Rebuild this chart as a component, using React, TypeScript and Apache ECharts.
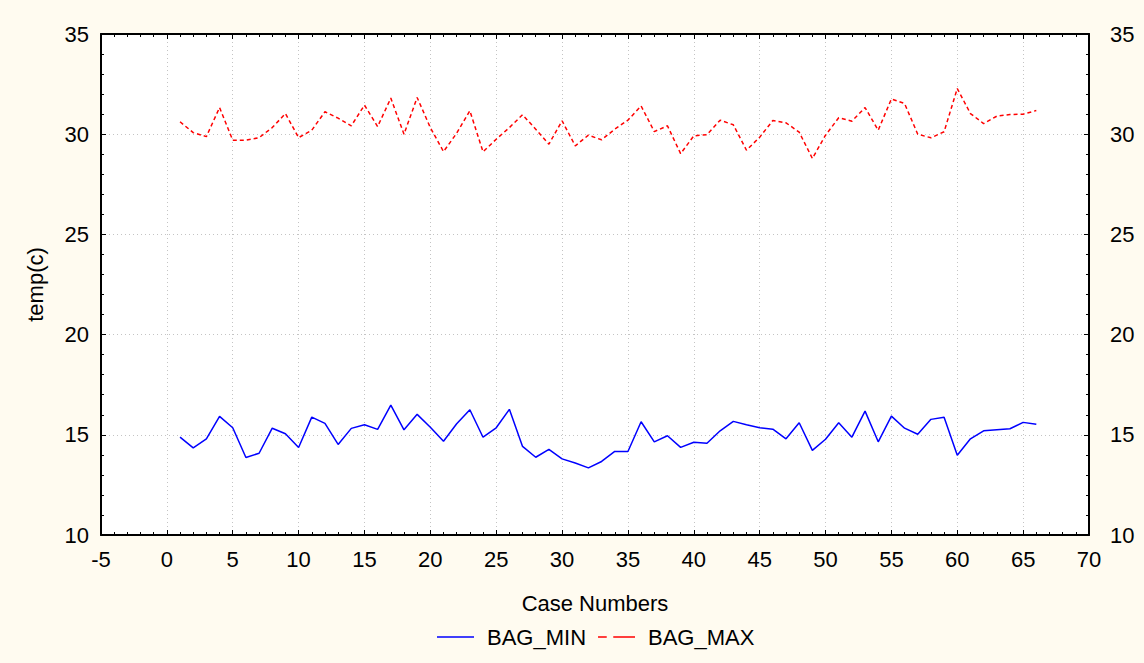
import React, { useEffect, useRef } from "react";
import * as echarts from "echarts";

const caseNumbers = [
  1, 2, 3, 4, 5, 6, 7, 8, 9, 10, 11, 12, 13, 14, 15, 16, 17, 18, 19, 20, 21, 22,
  23, 24, 25, 26, 27, 28, 29, 30, 31, 32, 33, 34, 35, 36, 37, 38, 39, 40, 41, 42,
  43, 44, 45, 46, 47, 48, 49, 50, 51, 52, 53, 54, 55, 56, 57, 58, 59, 60, 61, 62,
  63, 64, 65, 66,
];

const bagMin = [
  14.88, 14.35, 14.8, 15.92, 15.35, 13.87, 14.08, 15.33, 15.05, 14.37, 15.88,
  15.57, 14.52, 15.32, 15.5, 15.27, 16.48, 15.25, 16.02, 15.38, 14.68, 15.55,
  16.25, 14.88, 15.35, 16.27, 14.42, 13.88, 14.27, 13.8, 13.59, 13.35, 13.67,
  14.17, 14.17, 15.65, 14.65, 14.95, 14.37, 14.63, 14.58, 15.2, 15.67, 15.5,
  15.35, 15.28, 14.8, 15.6, 14.22, 14.78, 15.6, 14.88, 16.18, 14.65, 15.93,
  15.33, 15.03, 15.77, 15.88, 13.98, 14.8, 15.2, 15.25, 15.3, 15.62, 15.53,
];

const bagMax = [
  30.62, 30.08, 29.88, 31.33, 29.7, 29.7, 29.83, 30.33, 31.03, 29.83, 30.2,
  31.12, 30.8, 30.42, 31.45, 30.38, 31.8, 30.0, 31.83, 30.33, 29.13, 30.05,
  31.17, 29.12, 29.75, 30.33, 30.97, 30.25, 29.5, 30.67, 29.42, 29.95, 29.72,
  30.25, 30.7, 31.41, 30.13, 30.42, 29.03, 29.92, 29.98, 30.7, 30.47, 29.2,
  29.85, 30.68, 30.57, 30.1, 28.79, 29.95, 30.82, 30.65, 31.33, 30.2, 31.76,
  31.53, 30.0, 29.82, 30.12, 32.28, 31.03, 30.53, 30.9, 30.98, 31.0, 31.18,
];

const FONT = 'Arial, "Liberation Sans", sans-serif';

export default function App() {
  const ref = useRef<HTMLDivElement>(null);

  useEffect(() => {
    if (!ref.current) return;
    const chart = echarts.init(ref.current, undefined, { renderer: "svg" });

    const axisLine = { show: true, onZero: false, lineStyle: { color: "#000", width: 2 } };
    const tick = { show: true, inside: true, length: 5, lineStyle: { color: "#000", width: 1 } };
    const minorTick = { show: true, splitNumber: 5, length: 3, lineStyle: { color: "#000", width: 1 } };
    const label = { color: "#000", fontSize: 22, fontFamily: FONT };
    const split = { show: true, lineStyle: { color: "#c4c4c4", type: [1, 3] as any, width: 1 } };

    chart.setOption({
      animation: false,
      backgroundColor: "#FFFBF0",
      grid: { left: 101, top: 34, right: 55, bottom: 128, show: true, backgroundColor: "#fff", borderWidth: 0 },
      legend: {
        bottom: 10,
        left: 432,
        itemWidth: 37,
        itemHeight: 14,
        itemGap: 12,
        symbolKeepAspect: true,
        textStyle: { color: "#000", fontSize: 22, fontFamily: FONT, padding: [0, 0, 0, 8] },
        data: [
          { name: "BAG_MIN", icon: "path://M0,0H37V1.6H0Z" },
          { name: "BAG_MAX", icon: "path://M0,0H8V1.6H0Z M14,0H34V1.6H14Z" },
        ],
      },
      xAxis: [
        {
          type: "value",
          min: -5,
          max: 70,
          interval: 5,
          position: "bottom",
          name: "Case Numbers",
          nameLocation: "middle",
          nameGap: 57,
          nameTextStyle: { color: "#000", fontSize: 22, fontFamily: FONT },
          axisLine,
          axisTick: tick,
          minorTick,
          axisLabel: { ...label, margin: 13 },
          splitLine: split,
        },
        {
          type: "value",
          min: -5,
          max: 70,
          interval: 5,
          position: "top",
          axisLine,
          axisTick: tick,
          minorTick,
          axisLabel: { show: false },
          splitLine: { show: false },
        },
      ],
      yAxis: [
        {
          type: "value",
          min: 10,
          max: 35,
          interval: 5,
          position: "left",
          name: "temp(c)",
          nameLocation: "middle",
          nameGap: 55,
          nameTextStyle: { color: "#000", fontSize: 22, fontFamily: FONT },
          axisLine,
          axisTick: tick,
          minorTick,
          axisLabel: { ...label, margin: 12 },
          splitLine: split,
        },
        {
          type: "value",
          min: 10,
          max: 35,
          interval: 5,
          position: "right",
          axisLine,
          axisTick: tick,
          minorTick,
          axisLabel: { ...label, margin: 21 },
          splitLine: { show: false },
        },
      ],
      series: [
        {
          name: "BAG_MIN",
          type: "line",
          symbol: "none",
          data: caseNumbers.map((c, i) => [c, bagMin[i]]),
          lineStyle: { color: "#0000FF", width: 1.5 },
          itemStyle: { color: "#0000FF" },
        },
        {
          name: "BAG_MAX",
          type: "line",
          symbol: "none",
          data: caseNumbers.map((c, i) => [c, bagMax[i]]),
          lineStyle: { color: "#FF0000", width: 1.5, type: [4, 3] as any },
          itemStyle: { color: "#FF0000" },
        },
      ],
    });

    return () => chart.dispose();
  }, []);

  return <div ref={ref} style={{ width: 1144, height: 663, position: "absolute", left: 0, top: 0 }} />;
}
